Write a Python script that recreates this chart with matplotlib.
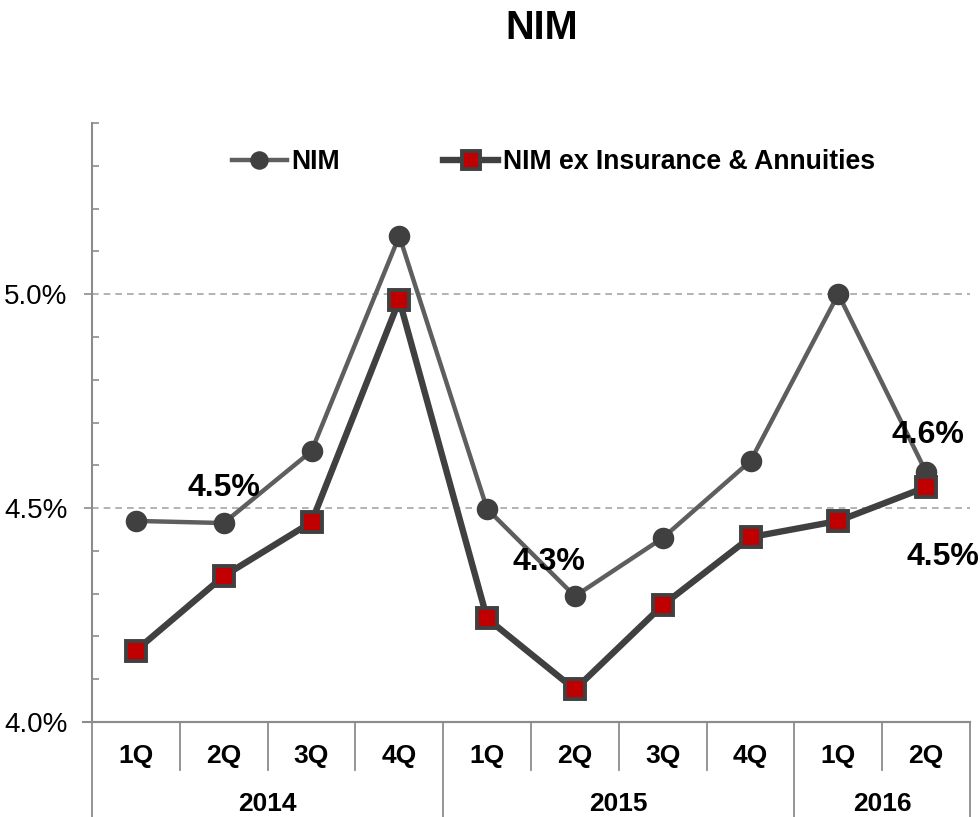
import numpy as np
import matplotlib
matplotlib.use("Agg")
from matplotlib import pyplot as plt
from matplotlib.lines import Line2D
from matplotlib.ticker import FixedLocator, FuncFormatter

plt.rcParams['font.family'] = ['Liberation Sans', 'DejaVu Sans']

# datos
trimestres = ["1Q", "2Q", "3Q", "4Q", "1Q", "2Q", "3Q", "4Q", "1Q", "2Q"]
anios = ["2014", "2015", "2016"]
trimestres_por_anio = [4, 4, 2]
nim = [4.47, 4.465, 4.633, 5.136, 4.498, 4.294, 4.43, 4.61, 5.0, 4.584]
nim_ex = [4.167, 4.341, 4.467, 4.986, 4.242, 4.076, 4.273, 4.432, 4.47, 4.549]
etiquetas = ["4.5%", "4.3%", "4.6%", "4.5%"]
etiqueta_x = [1.0, 4.7, 9.02, 9.19]
etiqueta_y = [4.547, 4.374, 4.671, 4.385]

gris_eje = "#8c8c8c"

fig = plt.figure(figsize=(9.8, 8.17), dpi=100)
ax = fig.add_axes([92/980, 1-722/817, 878/980, 599/817])

x = np.arange(len(trimestres))
ax.plot(x, nim, color="#5e5e5e", lw=3.2, marker="o", ms=14.5,
        mfc="#404040", mec="#404040", label="NIM", zorder=3)
ax.plot(x, nim_ex, color="#404040", lw=4.6, marker="s", ms=14.5,
        mfc="#c00000", mec="#404040", mew=2.8,
        label="NIM ex Insurance & Annuities", zorder=4)

for t, xx, yy in zip(etiquetas, etiqueta_x, etiqueta_y):
    ax.text(xx, yy, t, ha="center", va="center", fontsize=23, fontweight="bold")

ax.set_xlim(-0.5, len(trimestres)-0.5)
ax.set_ylim(4.0, 5.4)

# eje y
ax.yaxis.set_major_locator(FixedLocator([4.0, 4.5, 5.0]))
ax.yaxis.set_minor_locator(FixedLocator(np.arange(4.0, 5.41, 0.1)))
ax.yaxis.set_major_formatter(FuncFormatter(lambda v, p: "%.1f%%" % v))
ax.tick_params(axis="y", which="major", direction="out", length=6, width=1.2,
               color=gris_eje, labelsize=20, pad=11.5)
ax.tick_params(axis="y", which="minor", direction="in", length=5, width=1.2,
               color=gris_eje)
for g in [4.5, 5.0]:
    ax.axhline(g, color="#a6a6a6", lw=1.2, ls=(0, (4, 3)), zorder=1)

ax.set_xticks([])
for s in ["top", "right"]:
    ax.spines[s].set_visible(False)
ax.spines["left"].set_color(gris_eje)
ax.spines["left"].set_linewidth(1.5)
ax.spines["bottom"].set_color(gris_eje)
ax.spines["bottom"].set_linewidth(1.5)

# eje de categorias de dos niveles
tr = ax.get_xaxis_transform()
ax.plot([-0.5-0.1, len(trimestres)-0.5], [0, 0], transform=tr,
        color=gris_eje, lw=1.5, clip_on=False)
for i in range(len(trimestres)):
    ax.text(i, -0.057, trimestres[i], transform=tr, ha="center", va="center",
            fontsize=19, fontweight="bold")
limites = np.cumsum([0] + trimestres_por_anio) - 0.5
for i in range(len(trimestres)+1):
    b = i - 0.5
    if b in limites:
        ax.add_line(Line2D([b, b], [0, -0.16], transform=tr, color=gris_eje,
                           lw=1.3, clip_on=False))
    else:
        ax.add_line(Line2D([b, b], [0, -0.08], transform=tr, color=gris_eje,
                           lw=1.3, clip_on=False))
for a, i0, i1 in zip(anios, limites[:-1], limites[1:]):
    ax.text((i0+i1)/2, -0.137, a, transform=tr, ha="center", va="center",
            fontsize=19, fontweight="bold")

ax.legend(loc="center", bbox_to_anchor=(0.5256, 0.935), ncol=2, frameon=False,
          prop={"weight": "bold", "size": 19.2}, handlelength=2.06,
          handletextpad=0.19, columnspacing=3.86, markerscale=0.85)

fig.text(0.553, 0.966, "NIM", ha="center", va="center", fontsize=28.5,
         fontweight="bold")

fig.savefig("out.png", dpi=100)
